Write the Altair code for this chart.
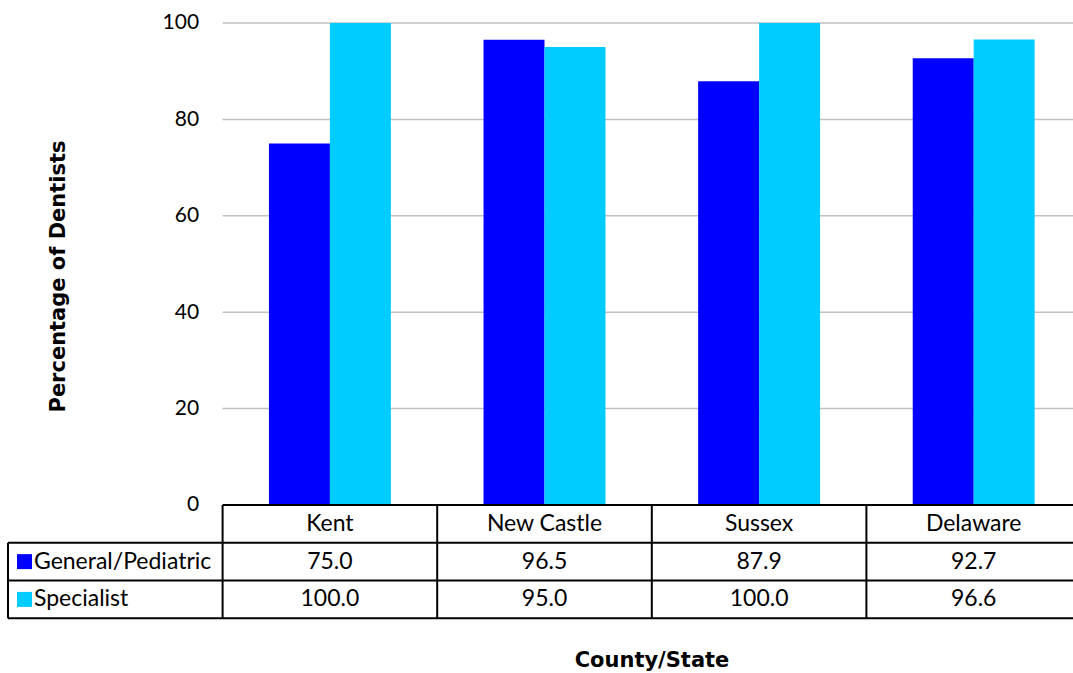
import altair as alt
import pandas as pd

# Share of dentists by county, with a data table under the bars
categories = ["Kent", "New Castle", "Sussex", "Delaware"]
general_pediatric = [75.0, 96.5, 87.9, 92.7]
specialist = [100.0, 95.0, 100.0, 96.6]
series_names = ["General/Pediatric", "Specialist"]
series_colors = ["#0000FF", "#00CCFF"]
y_ticks = [0, 20, 40, 60, 80, 100]
grid_ticks = [20, 40, 60, 80, 100]

LABEL_COL = "series"          # left-hand column of the data table
columns = [LABEL_COL] + categories
ROW_H = 7.84                  # height of one table row, in axis units
FONT = "Lato"
TITLE_FONT = "DejaVu Sans"
FS_TICK = 21
FS_TABLE = 23
FS_TITLE = 21

series_values = {series_names[0]: general_pediatric, series_names[1]: specialist}

bars_df = pd.DataFrame(
    [
        {"col": c, "series": s, "value": series_values[s][i]}
        for i, c in enumerate(categories)
        for s in series_names
    ]
)

x_scale = alt.Scale(domain=columns, range=[0, 1073], paddingInner=0, paddingOuter=0)
y_scale = alt.Scale(domain=[-3 * ROW_H, 100], nice=False, zero=False)
color_scale = alt.Scale(domain=series_names, range=series_colors)

x_axis = alt.Axis(
    labels=False, ticks=False, domain=False, grid=False,
    title="County/State", titleFont=TITLE_FONT, titleFontSize=FS_TITLE,
    titleFontWeight="bold", titleColor="black", titleX=643.5, titlePadding=31,
)
y_axis = alt.Axis(
    values=y_ticks, grid=False, domain=False, ticks=False,
    labelPadding=24, labelFont=FONT, labelFontSize=FS_TICK, labelColor="black",
    offset=-214.6,
    title="Percentage of Dentists", titleFont=TITLE_FONT, titleFontSize=FS_TITLE,
    titleFontWeight="bold", titleColor="black",
    titleX=-164, titleY=253, titleBaseline="middle",
)

# horizontal gridlines over the data columns only
grid_df = pd.DataFrame({"y": grid_ticks, "start": categories[0], "end": categories[-1]})
grid = alt.Chart(grid_df).mark_rule(color="#c0c0c0", strokeWidth=1.5).encode(
    x=alt.X("start:N", bandPosition=0, scale=x_scale, axis=x_axis),
    x2=alt.X2("end:N", bandPosition=1),
    y=alt.Y("y:Q", scale=y_scale, axis=y_axis),
)

bars = alt.Chart(bars_df).mark_bar().encode(
    x=alt.X("col:N", scale=x_scale),
    xOffset=alt.XOffset(
        "series:N",
        scale=alt.Scale(domain=series_names, paddingInner=0, paddingOuter=0.76),
    ),
    y=alt.Y("value:Q", scale=y_scale),
    y2=alt.datum(0),
    color=alt.Color("series:N", scale=color_scale, legend=None),
)

# table borders
hlines_df = pd.DataFrame(
    {
        "y": [0, -ROW_H, -2 * ROW_H, -3 * ROW_H],
        "start": [categories[0], LABEL_COL, LABEL_COL, LABEL_COL],
        "end": categories[-1],
    }
)
hlines = alt.Chart(hlines_df).mark_rule(color="black", strokeWidth=2).encode(
    x=alt.X("start:N", bandPosition=0, scale=x_scale),
    x2=alt.X2("end:N", bandPosition=1),
    y=alt.Y("y:Q", scale=y_scale),
)

vlines_df = pd.DataFrame(
    {
        "col": columns,
        "top": [-ROW_H] + [0] * len(categories),
        "bottom": -3 * ROW_H,
    }
)
vlines = alt.Chart(vlines_df).mark_rule(color="black", strokeWidth=2).encode(
    x=alt.X("col:N", bandPosition=0, scale=x_scale),
    y=alt.Y("top:Q", scale=y_scale),
    y2="bottom:Q",
)

# table cells: header row with names, then one row per series
cells = []
for i, c in enumerate(categories):
    cells.append({"col": c, "y": -0.5 * ROW_H, "text": c})
    for r, s in enumerate(series_names):
        cells.append({"col": c, "y": -(r + 1.5) * ROW_H, "text": f"{series_values[s][i]:.1f}"})
cells_df = pd.DataFrame(cells)
cell_text = alt.Chart(cells_df).mark_text(
    font=FONT, fontSize=FS_TABLE, color="black", baseline="middle", align="center"
).encode(
    x=alt.X("col:N", bandPosition=0.5, scale=x_scale),
    y=alt.Y("y:Q", scale=y_scale),
    text="text:N",
)

keys_df = pd.DataFrame(
    {"col": LABEL_COL, "series": series_names, "y": [-1.5 * ROW_H, -2.5 * ROW_H]}
)
keys = alt.Chart(keys_df).mark_square(size=225, opacity=1).encode(
    x=alt.X("col:N", bandPosition=0.077, scale=x_scale),
    y=alt.Y("y:Q", scale=y_scale),
    color=alt.Color("series:N", scale=color_scale, legend=None),
)
key_text = alt.Chart(keys_df).mark_text(
    font=FONT, fontSize=FS_TABLE, color="black", baseline="middle", align="left", dx=26
).encode(
    x=alt.X("col:N", bandPosition=0, scale=x_scale),
    y=alt.Y("y:Q", scale=y_scale),
    text="series:N",
)

chart = (
    alt.layer(grid, bars, hlines, vlines, cell_text, keys, key_text)
    .properties(
        width=1065,
        height=595.3,
        autosize=alt.AutoSizeParams(type="none"),
        padding={"left": 8, "top": 23, "right": 0, "bottom": 55},
        background="white",
    )
    .configure_view(stroke=None)
)

chart.save("out.html", embed_options={"renderer": "svg", "actions": False})
